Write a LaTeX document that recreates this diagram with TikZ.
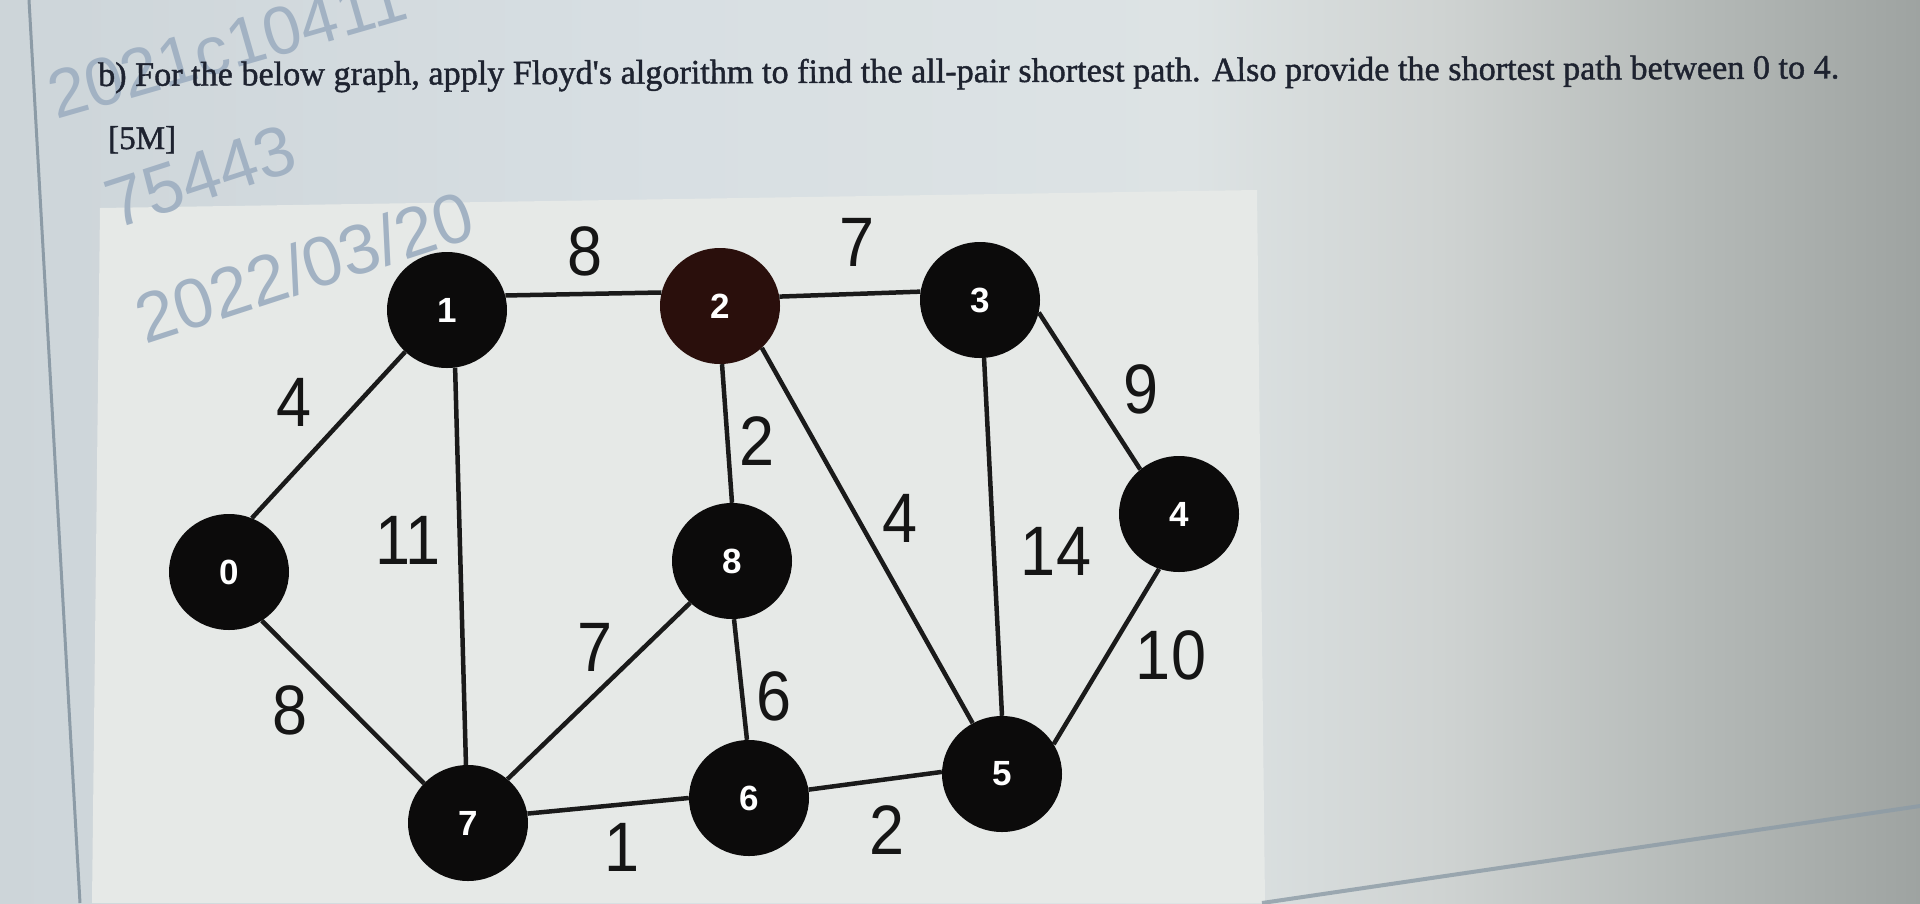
\documentclass[tikz,border=0pt]{standalone}
\usepackage{fontspec}
\setmainfont{Liberation Serif}
\newfontfamily\arialf{Liberation Sans}
\newfontfamily\titlefont[FakeBold=1.2]{Liberation Serif}
\usetikzlibrary{shapes.geometric}
\definecolor{bgA}{HTML}{CDD5D9}
\definecolor{bgB}{HTML}{D8DFE3}
\definecolor{bgC}{HTML}{DDE3E4}
\definecolor{bgD}{HTML}{CFD3D2}
\definecolor{bgE}{HTML}{B5BAB8}
\definecolor{bgF}{HTML}{9EA3A1}
\definecolor{panelcol}{HTML}{E6E9E7}
\definecolor{scrline}{HTML}{8C9BA6}
\definecolor{nodeblack}{HTML}{0C0B0B}
\definecolor{nodebrown}{HTML}{2A0F0C}
\definecolor{edgecol}{HTML}{1A1A1A}
\definecolor{labcol}{HTML}{151515}
\definecolor{wmcol}{HTML}{A2B2C3}
\definecolor{titlecol}{HTML}{1E2330}
\pgfdeclarehorizontalshading{bgshade}{100bp}{color(0bp)=(bgA); color(25bp)=(bgA); color(42.5bp)=(bgB); color(56bp)=(bgC); color(62.5bp)=(bgD); color(69bp)=(bgE); color(75bp)=(bgF); color(100bp)=(bgF)}
\begin{document}
\begin{tikzpicture}[x=1pt,y=-1pt,
  vtx/.style={ellipse, fill=nodeblack, minimum width=120pt, minimum height=116pt, inner sep=0pt, text=white, font=\arialf\bfseries\fontsize{35}{35}\selectfont},
  edge/.style={line width=4.5pt, draw=edgecol},
  wlab/.style={font=\arialf\fontsize{70}{70}\selectfont, text=labcol, inner sep=0pt},
  wm/.style={font=\arialf\fontsize{70}{70}\selectfont, text=wmcol, inner sep=0pt, anchor=base west}]
\useasboundingbox (0,0) rectangle (1920,903);
\clip (0,0) rectangle (1920,903);
% photo background
\shade[shading=bgshade] (0,0) rectangle (1920,903);
\draw[line width=3pt, color=scrline] (29,0) -- (80,903);
\fill[panelcol] (100,208) -- (1257,190) -- (1265,903) -- (92,903) -- cycle;
\draw[line width=4pt, color=scrline, opacity=0.8] (1262,903) -- (1920,806);
% watermarks
\node[wm, rotate=16, font=\arialf\fontsize{68}{68}\selectfont] (wm1) at (56,120) {2021c10411};
\node[wm, rotate=18] (wm2) at (115,230) {75443};
\node[wm, rotate=18] (wm3) at (145,345) {2022/03/20};
% title
\node[anchor=base west, inner sep=0pt, text=titlecol, rotate=0.25] (title) at (98,86)
  {\resizebox{1741pt}{!}{\titlefont\fontsize{30}{30}\selectfont b) For the below graph, apply Floyd's algorithm to find the all-pair shortest path. Also provide the shortest path between 0 to 4.}};
\node[anchor=base west, inner sep=0pt, text=titlecol] (marks) at (108,149) {\titlefont\fontsize{33}{33}\selectfont [5M]};
% vertices
\node[vtx] (n0) at (229,572) {0};
\node[vtx] (n1) at (447,310) {1};
\node[vtx, fill=nodebrown] (n2) at (720,306) {2};
\node[vtx] (n3) at (980,300) {3};
\node[vtx] (n4) at (1179,514) {4};
\node[vtx] (n5) at (1002,774) {5};
\node[vtx] (n6) at (749,798) {6};
\node[vtx] (n7) at (468,823) {7};
\node[vtx] (n8) at (732,561) {8};
% edges
\draw[edge] (n1.14) -- (n2.167);
\draw[edge] (n2.9) -- (n3.172);
\draw[edge] (n1.225) -- (n0.67);
\draw[edge] (n0.304) -- (n7.138);
\draw[edge] (n1.278) -- (n7.92);
\draw[edge] (n2.272) -- (n8.90);
\draw[edge] (n2.315) -- (n5.120);
\draw[edge] (n3.274) -- (n5.90);
\draw[edge] (n3.348) -- (n4.131);
\draw[edge] (n4.250) -- (n5.30);
\draw[edge] (n8.225) -- (n7.48);
\draw[edge] (n8.272) -- (n6.92);
\draw[edge] (n7.9) -- (n6.180);
\draw[edge] (n6.8) -- (n5.178);
% weights
\node[wlab] (w12) at (585,251) {\scalebox{0.9}[1]{8}};
\node[wlab] (w23) at (857,242) {\scalebox{0.9}[1]{7}};
\node[wlab] (w01) at (294,402) {\scalebox{0.9}[1]{4}};
\node[wlab] (w17) at (408,540) {\scalebox{0.9}[1]{11}};
\node[wlab] (w28) at (757,441) {\scalebox{0.9}[1]{2}};
\node[wlab] (w25) at (900,518) {\scalebox{0.9}[1]{4}};
\node[wlab] (w34) at (1141,389) {\scalebox{0.9}[1]{9}};
\node[wlab] (w35) at (1056,551) {\scalebox{0.9}[1]{14}};
\node[wlab] (w45) at (1171,655) {\scalebox{0.9}[1]{10}};
\node[wlab] (w87) at (595,647) {\scalebox{0.9}[1]{7}};
\node[wlab] (w07) at (290,710) {\scalebox{0.9}[1]{8}};
\node[wlab] (w86) at (774,696) {\scalebox{0.9}[1]{6}};
\node[wlab] (w76) at (622,847) {\scalebox{0.9}[1]{1}};
\node[wlab] (w65) at (887,830) {\scalebox{0.9}[1]{2}};
\end{tikzpicture}
\end{document}
